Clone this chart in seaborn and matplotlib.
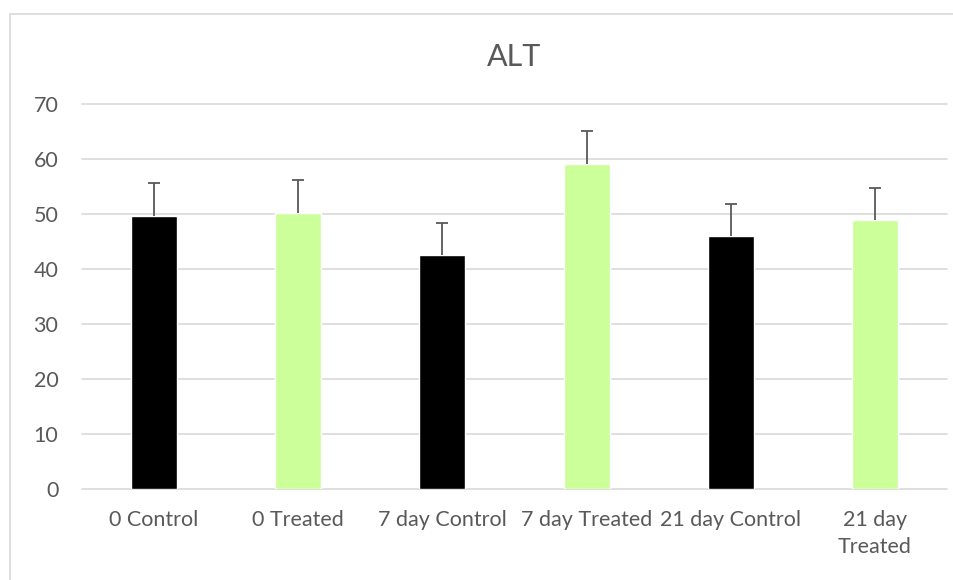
import numpy as np
import pandas as pd
import matplotlib.pyplot as plt
import seaborn as sns
from matplotlib.patches import Rectangle

# values
groups = ['0 Control', '0 Treated', '7 day Control', '7 day Treated', '21 day Control', '21 day\nTreated']
alt_mean = [49.6, 50.1, 42.5, 59.1, 46.0, 48.9]
alt_err = [6.0, 6.1, 5.9, 5.9, 5.9, 5.9]
bar_colors = ['#000000', '#CCFF99', '#000000', '#CCFF99', '#000000', '#CCFF99']

sns.set_style('white')
plt.rcParams['font.family'] = ['Lato', 'DejaVu Sans']

df = pd.DataFrame({'group': groups, 'ALT': alt_mean})

fig = plt.figure(figsize=(9.54, 5.8), dpi=100)
ax = fig.add_axes([82/954, 1-489/580, (947-82)/954, (489-104)/580])

sns.barplot(data=df, x='group', y='ALT', hue='group', palette=bar_colors,
            width=0.32, legend=False, ax=ax, zorder=2, saturation=1)

# upper error bars only
eb = ax.errorbar(np.arange(len(groups)), alt_mean, yerr=[[0]*len(groups), alt_err],
                 fmt='none', ecolor='#595959', elinewidth=1.3, capsize=4.5, capthick=1.3, zorder=3)
eb[1][0].set_visible(False)  # drop the lower cap

ax.set_ylim(0, 70)
ax.set_yticks(range(0, 71, 10))
ax.set_xlim(-0.5, len(groups) - 0.5)
ax.grid(axis='y', color='#D9D9D9', linewidth=1.2, zorder=0)
ax.set_axisbelow(True)
for gl in ax.get_ygridlines():
    gl.set_clip_on(False)
for s in ax.spines.values():
    s.set_visible(False)

ax.tick_params(axis='both', length=0, labelsize=15.5, colors='#595959')
ax.tick_params(axis='x', pad=15)
ax.tick_params(axis='y', pad=17)
for t in ax.get_xticklabels():
    t.set_linespacing(1.45)
ax.set_xlabel('')
ax.set_ylabel('')
ax.set_title('ALT', fontsize=22, color='#595959', pad=27)

# chart border (cropped at right/bottom)
fig.patches.append(Rectangle((10/954, -0.1), 1.2, 1-14/580+0.1, transform=fig.transFigure,
                             fill=False, edgecolor='#D9D9D9', linewidth=1.2))

fig.savefig('out.png', dpi=100)
